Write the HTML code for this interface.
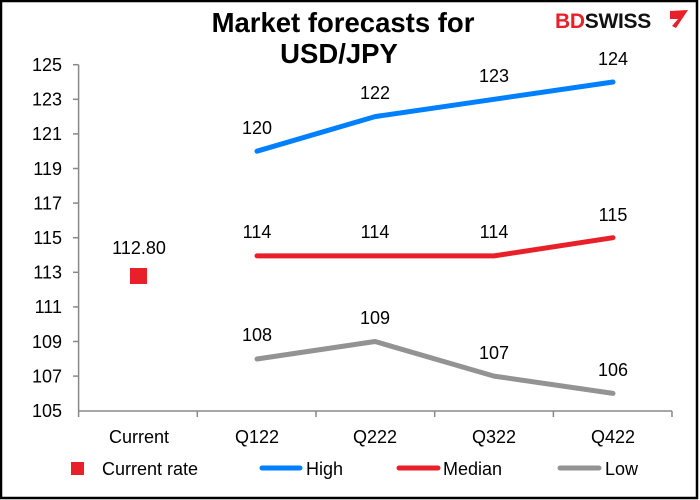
<!DOCTYPE html>
<html><head><style>
body{margin:0;background:#fff}
svg{display:block;font-family:"Liberation Sans",sans-serif}
</style></head><body>
<svg width="700" height="500" viewBox="0 0 700 500">
<rect x="1" y="1" width="696" height="497" fill="#fff" stroke="#000" stroke-width="2.5"/>
<text x="343" y="32" font-size="27.5" font-weight="bold" text-anchor="middle">Market forecasts for</text>
<text x="339" y="63" font-size="27.5" font-weight="bold" text-anchor="middle">USD/JPY</text>
<text x="555" y="28" font-size="21" font-weight="bold" fill="#e8202a" letter-spacing="-0.3">BD<tspan fill="#111">SWISS</tspan></text>
<polygon points="670,11 688,10 676,28 672,26 678,19 670,19" fill="#e8202a"/>
<g stroke="#888" stroke-width="1.5">
<line x1="78.6" y1="64.7" x2="78.6" y2="411"/>
<line x1="78.6" y1="411" x2="672" y2="411"/>
</g>
<g stroke="#888" stroke-width="1.5">
<line x1="73" y1="64.7" x2="78.6" y2="64.7"/><line x1="73" y1="99.3" x2="78.6" y2="99.3"/><line x1="73" y1="133.9" x2="78.6" y2="133.9"/><line x1="73" y1="168.5" x2="78.6" y2="168.5"/><line x1="73" y1="203.1" x2="78.6" y2="203.1"/><line x1="73" y1="237.7" x2="78.6" y2="237.7"/><line x1="73" y1="272.3" x2="78.6" y2="272.3"/><line x1="73" y1="306.9" x2="78.6" y2="306.9"/><line x1="73" y1="341.5" x2="78.6" y2="341.5"/><line x1="73" y1="376.1" x2="78.6" y2="376.1"/>
<line x1="78.6" y1="411" x2="78.6" y2="417"/><line x1="197.3" y1="411" x2="197.3" y2="417"/><line x1="316" y1="411" x2="316" y2="417"/><line x1="434.7" y1="411" x2="434.7" y2="417"/><line x1="553.4" y1="411" x2="553.4" y2="417"/><line x1="672" y1="411" x2="672" y2="417"/>
</g>
<g font-size="18" text-anchor="end">
<text x="62" y="71">125</text><text x="62" y="105.6">123</text><text x="62" y="140.2">121</text><text x="62" y="174.8">119</text><text x="62" y="209.4">117</text><text x="62" y="244">115</text><text x="62" y="278.6">113</text><text x="62" y="313.2">111</text><text x="62" y="347.8">109</text><text x="62" y="382.4">107</text><text x="62" y="417">105</text>
</g>
<g font-size="18" text-anchor="middle">
<text x="139" y="443">Current</text><text x="257" y="443">Q122</text><text x="375" y="443">Q222</text><text x="494" y="443">Q322</text><text x="613" y="443">Q422</text>
</g>
<g fill="none" stroke-width="5" stroke-linecap="round" stroke-linejoin="round">
<polyline stroke="#0080ff" points="257,151.2 375,116.6 494,99.3 613,82"/>
<polyline stroke="#e8202a" points="257,255.9 375,255.9 494,255.9 613,237.7"/>
<polyline stroke="#939393" points="257,359 375,341.5 494,376.1 613,393.4"/>
</g>
<rect x="130" y="268" width="17" height="16" fill="#e8202a"/>
<g font-size="18" text-anchor="middle">
<text x="139" y="254">112.80</text>
<text x="257" y="134">120</text><text x="375" y="99">122</text><text x="494" y="82">123</text><text x="613" y="65">124</text>
<text x="257" y="238">114</text><text x="375" y="238">114</text><text x="494" y="238">114</text><text x="613" y="221">115</text>
<text x="257" y="341">108</text><text x="375" y="324">109</text><text x="494" y="359">107</text><text x="613" y="376">106</text>
</g>
<rect x="71" y="462" width="13" height="13" fill="#e8202a"/>
<g stroke-width="5" stroke-linecap="round">
<line x1="262" y1="468" x2="300" y2="468" stroke="#0080ff"/>
<line x1="399" y1="468" x2="438" y2="468" stroke="#e8202a"/>
<line x1="560" y1="468" x2="599" y2="468" stroke="#939393"/>
</g>
<g font-size="18">
<text x="102" y="475">Current rate</text><text x="306" y="475">High</text><text x="443" y="475">Median</text><text x="605" y="475">Low</text>
</g>
</svg>
</body></html>
